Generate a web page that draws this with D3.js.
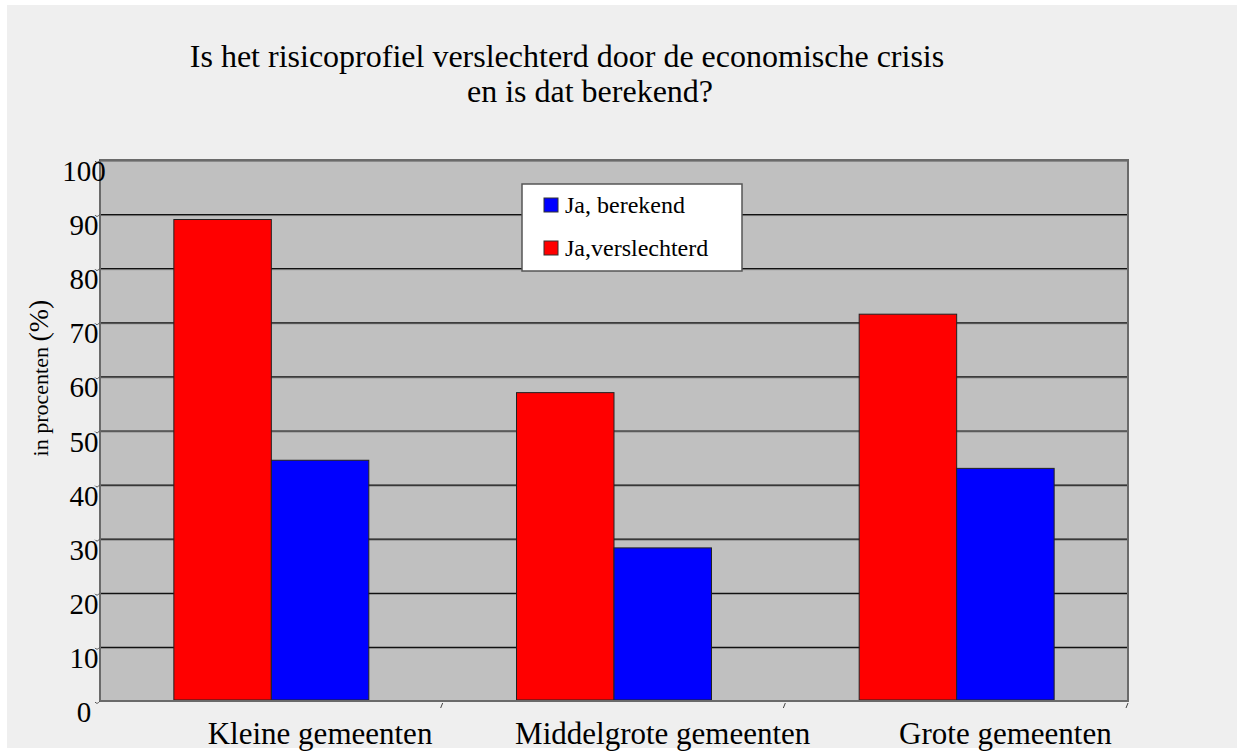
<!DOCTYPE html>
<html>
<head>
<meta charset="utf-8">
<script src="https://cdn.jsdelivr.net/npm/d3@7"></script>
<style>
	body { margin: 0; background: #fff; }
</style>
</head>
<body>
<script>
var categories = ["Kleine gemeenten", "Middelgrote gemeenten", "Grote gemeenten"];
var series = ["Ja,verslechterd", "Ja, berekend"];
var verslechterd = [89, 57, 71.5];
var berekend = [44.5, 28.3, 43];
var legendOrder = ["Ja, berekend", "Ja,verslechterd"];
var yTicks = [0, 10, 20, 30, 40, 50, 60, 70, 80, 90, 100];
var titleLines = ["Is het risicoprofiel verslechterd door de economische crisis", "en is dat berekend?"];

(function(w){
	var W = 1243, H = 753;
	var plot = {l: 100, r: 1128, t: 160, b: 701};
	var colors = {"Ja,verslechterd": "#ff0000", "Ja, berekend": "#0000ff"};
	var serif = "'Liberation Serif', 'Times New Roman', Times, serif";

	var svg = d3.select("body").append("svg").attr("width", W).attr("height", H)
		.attr("font-family", serif);
	svg.append("rect").attr("x", 7).attr("y", 5).attr("width", 1230).attr("height", 743).attr("fill", "#efefef");

	var y = d3.scaleLinear().domain([0, 100]).range([plot.b, plot.t]);
	var x0 = d3.scaleBand().domain(categories).range([plot.l, plot.r]).paddingInner(0.431).paddingOuter(0.2155);
	var x1 = d3.scaleBand().domain(series).range([0, x0.bandwidth()]);

	// plot background
	svg.append("rect").attr("x", plot.l).attr("y", plot.t)
		.attr("width", plot.r - plot.l).attr("height", plot.b - plot.t).attr("fill", "#c0c0c0");

	// gridlines
	var grid = svg.append("g");
	grid.selectAll("line.s").data(yTicks.slice(1)).enter().append("line")
		.attr("x1", plot.l).attr("x2", plot.r)
		.attr("y1", function(d){ return y(d) + 1.5; }).attr("y2", function(d){ return y(d) + 1.5; })
		.attr("stroke", "#8a8a8a").attr("stroke-width", 1);
	grid.selectAll("line.g").data(yTicks.slice(1)).enter().append("line")
		.attr("x1", plot.l).attr("x2", plot.r)
		.attr("y1", function(d){ return y(d) + 0.5; }).attr("y2", function(d){ return y(d) + 0.5; })
		.attr("stroke", "#111").attr("stroke-width", 1.2);

	// bars
	var rows = categories.map(function(c, i){
		return {cat: c, vals: [{s: series[0], v: verslechterd[i]}, {s: series[1], v: berekend[i]}]};
	});
	var groups = svg.selectAll("g.grp").data(rows).enter().append("g")
		.attr("transform", function(d){ return "translate(" + x0(d.cat) + ",0)"; });
	groups.selectAll("rect").data(function(d){ return d.vals; }).enter().append("rect")
		.attr("x", function(d){ return x1(d.s); })
		.attr("y", function(d){ return y(d.v); })
		.attr("width", x1.bandwidth())
		.attr("height", function(d){ return y(0) - y(d.v) - 1; })
		.attr("fill", function(d){ return colors[d.s]; })
		.attr("stroke", "#222").attr("stroke-width", 1);

	// frame
	svg.append("rect").attr("x", plot.l).attr("y", plot.t)
		.attr("width", plot.r - plot.l).attr("height", plot.b - plot.t)
		.attr("fill", "none").attr("stroke", "#6a6a6a").attr("stroke-width", 2);

	// y tick marks + labels
	var ya = svg.append("g");
	ya.selectAll("path").data(yTicks).enter().append("path")
		.attr("d", function(d){ return "M" + (plot.l - 5) + "," + (y(d) + 1) + "q2,3 5,-1"; })
		.attr("fill", "none").attr("stroke", "#555").attr("stroke-width", 1);
	ya.selectAll("text").data(yTicks).enter().append("text")
		.attr("x", 84).attr("y", function(d){ return y(d) + 21; })
		.attr("text-anchor", "middle").attr("font-size", 29).text(function(d){ return d; });

	// x category labels and separators
	var xa = svg.append("g");
	xa.selectAll("path").data(categories.slice(1)).enter().append("path")
		.attr("d", function(d){ var xx = x0(d) - x0.step() * x0.paddingInner() / 2; return "M" + xx + "," + (plot.b + 2) + "l-2,5"; })
		.attr("fill", "none").attr("stroke", "#444");
	xa.append("path").attr("d", "M" + plot.r + "," + (plot.b + 2) + "l-2,5").attr("fill", "none").attr("stroke", "#444");
	xa.selectAll("text").data(categories).enter().append("text")
		.attr("x", function(d){ return x0(d) + x0.bandwidth() / 2 + x1.bandwidth() / 2; })
		.attr("y", 744).attr("text-anchor", "middle").attr("font-size", 31)
		.text(function(d){ return d; });

	// y axis title
	var yt = svg.append("text").attr("transform", "translate(48,378) rotate(-90)")
		.attr("text-anchor", "middle");
	yt.append("tspan").attr("font-size", 22).text("in procenten ");
	yt.append("tspan").attr("font-size", 28).text("(%)");

	// title
	svg.append("text").attr("x", 567).attr("y", 67).attr("text-anchor", "middle").attr("font-size", 32).text(titleLines[0]);
	svg.append("text").attr("x", 590).attr("y", 102).attr("text-anchor", "middle").attr("font-size", 32).text(titleLines[1]);

	// legend
	var lg = svg.append("g");
	lg.append("rect").attr("x", 522).attr("y", 184).attr("width", 220).attr("height", 87)
		.attr("fill", "#fff").attr("stroke", "#555").attr("stroke-width", 1.5);
	var items = lg.selectAll("g").data(legendOrder).enter().append("g")
		.attr("transform", function(d, i){ return "translate(544," + (198 + i * 43) + ")"; });
	items.append("rect").attr("width", 14).attr("height", 14)
		.attr("fill", function(d){ return colors[d]; }).attr("stroke", "#333").attr("stroke-width", 1);
	items.append("text").attr("x", 21).attr("y", 15).attr("font-size", 24).text(function(d){ return d; });
})(window);
</script>
</body>
</html>
